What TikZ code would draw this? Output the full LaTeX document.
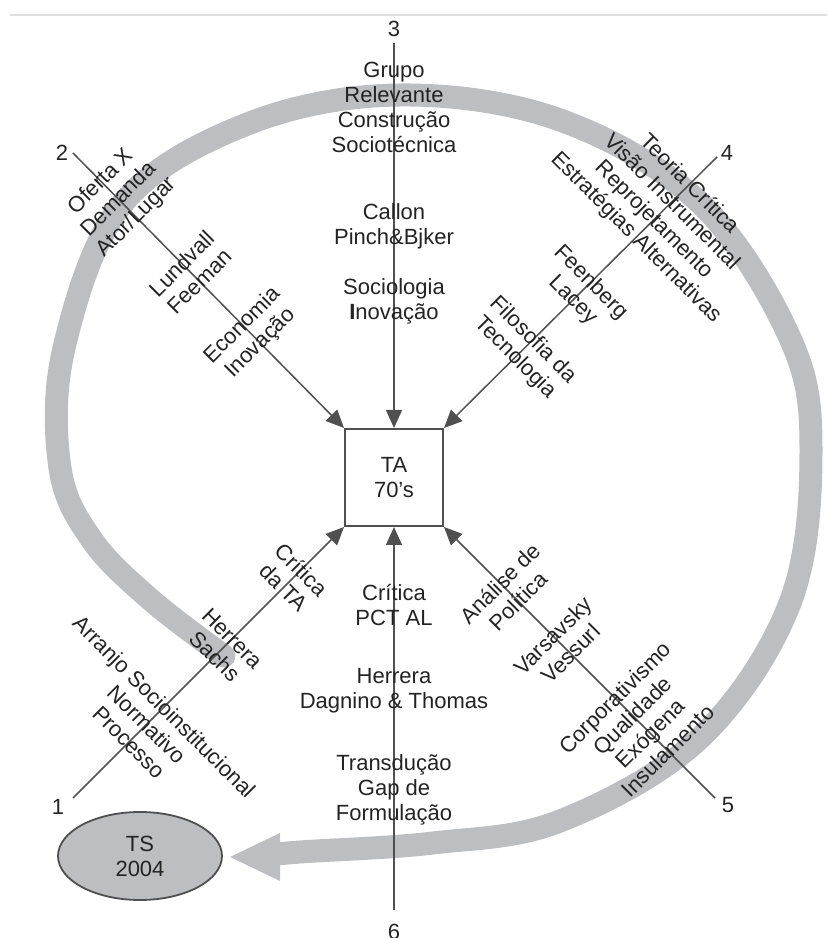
\documentclass[tikz,border=0pt]{standalone}
\usepackage{fontspec}
\setmainfont{Liberation Sans}
\usetikzlibrary{arrows.meta,shapes.geometric}
\definecolor{bandgray}{RGB}{189,190,194}
\definecolor{linegray}{RGB}{80,80,80}
\definecolor{txtgray}{RGB}{35,35,35}
\begin{document}
\begin{tikzpicture}[x=0.5pt,y=0.5pt,
		lbl/.style={text=txtgray, align=center, font=\fontsize{11}{12.5}\selectfont, inner sep=0pt},
		feed/.style={draw=linegray, line width=0.75pt, -{Triangle[length=9pt,width=8pt]}},
		band/.style={draw=bandgray, line width=11.5pt, line cap=round}]
			\useasboundingbox (0,0) rectangle (827,938);
			\draw[gray!25, line width=0.6pt] (10,923) -- (827,923);
			\draw[band] plot[smooth, tension=0.6] coordinates {(224,282) (151,338) (92,398) (60,470) (64,590) (123,735) (250,815) (400,843) (560,818) (700,735) (790,600) (811,488) (790,335) (700,200) (560,117) (433,95) (300,86) (262,82)};
			\fill[bandgray] (230,81) -- (280,105) -- (280,57) -- cycle;
			\node[lbl, draw=linegray, line width=1pt, minimum width=49pt, minimum height=48.5pt] (ta) at (394,460.5) {TA\\70's};
			\node[lbl, ellipse, draw=linegray, fill=bandgray, line width=0.9pt, minimum width=82pt, minimum height=44pt] (ts) at (140,82) {TS\\2004};
			\coordinate (c1) at (73,140);
			\coordinate (c2) at (73,785);
			\coordinate (c3) at (394,895);
			\coordinate (c4) at (717,781);
			\coordinate (c5) at (715,140);
			\coordinate (c6) at (394,28);
			\node[lbl] (n1) at (58,131) {1};
			\node[lbl] (n2) at (62,785) {2};
			\node[lbl] (n3) at (394,909) {3};
			\node[lbl] (n4) at (727,785) {4};
			\node[lbl] (n5) at (728,133) {5};
			\node[lbl] (n6) at (394,6) {6};
			\draw[feed] (c1) -- node[lbl, pos=.272, rotate=-45] (t1a) {Arranjo Socioinstitucional\\Normativo\\Processo}
				node[lbl, pos=.555, rotate=-45] (t1b) {Herrera\\Sachs}
				node[lbl, pos=.81, rotate=-45] (t1c) {Crítica\\da TA} (ta.south west);
			\draw[feed] (c2) -- node[lbl, pos=.17, rotate=45] (t2a) {Oferta X\\Demanda\\Ator/Lugar}
				node[lbl, pos=.434, rotate=45] (t2b) {Lundvall\\Feeman}
				node[lbl, pos=.66, rotate=45] (t2c) {Economia\\Inovação} (ta.north west);
			\draw[feed] (c3) -- node[lbl, pos=.168] (t3a) {Grupo\\Relevante\\Construção\\Sociotécnica}
				node[lbl, pos=.475] (t3b) {Callon\\Pinch\&Bjker}
				node[lbl, pos=.67] (t3c) {Sociologia\\\textbf{I}novação} (ta.north);
			\draw[feed] (c4) -- node[lbl, pos=.2, rotate=-45] (t4a) {Teoria Crítica\\Visão Instrumental\\Reprojetamento\\Estratégias Alternativas}
				node[lbl, pos=.496, rotate=-45] (t4b) {Feenberg\\Lacey}
				node[lbl, pos=.708, rotate=-45] (t4c) {Filosofia da\\Tecnologia} (ta.north east);
			\draw[feed] (c5) -- node[lbl, pos=.272, rotate=45] (t5a) {Corporativismo\\Qualidade\\Exógena\\Insulamento}
				node[lbl, pos=.566, rotate=45] (t5b) {Varsavsky\\Vessurl}
				node[lbl, pos=.76, rotate=45] (t5c) {Análise de\\Política} (ta.south east);
			\draw[feed] (c6) -- node[lbl, pos=.3125] (t6a) {Transdução\\Gap de\\Formulação}
				node[lbl, pos=.573] (t6b) {Herrera\\Dagnino \& Thomas}
				node[lbl, pos=.797] (t6c) {Crítica\\PCT AL} (ta.south);
		\end{tikzpicture}
\end{document}
